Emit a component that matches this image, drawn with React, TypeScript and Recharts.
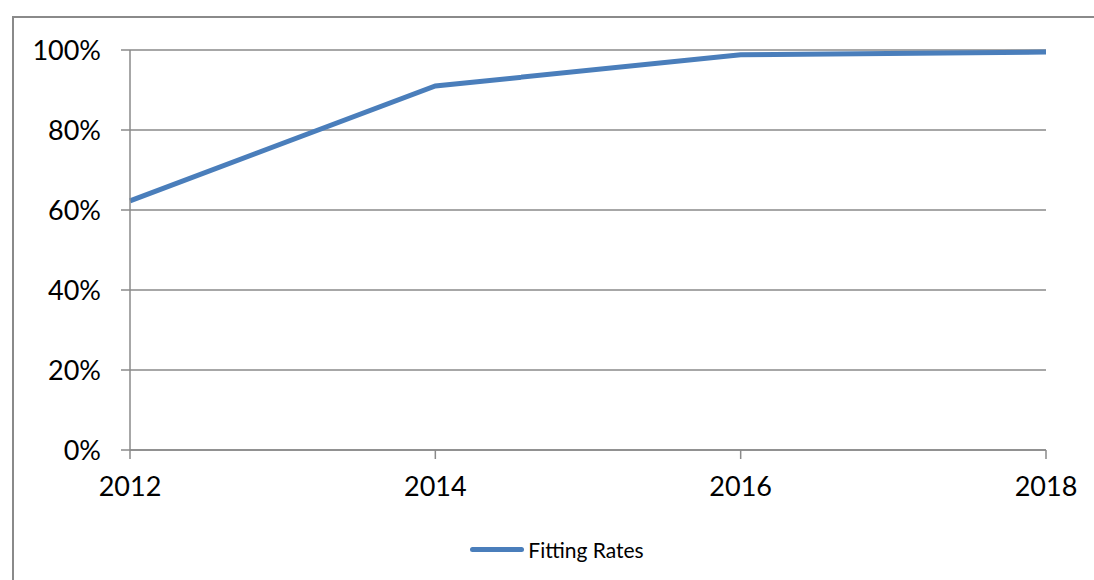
import React from 'react';
import { LineChart, Line, XAxis, YAxis, CartesianGrid } from 'recharts';

// values
const years = ['2012', '2014', '2016', '2018'];
const fittingRates = [0.623, 0.91, 0.988, 0.995];
const yTicks = [0, 0.2, 0.4, 0.6, 0.8, 1];

const data = years.map((year, i) => ({ year, rate: fittingRates[i] }));

const FONT = 'Lato, "Open Sans", sans-serif';
const GRAY = '#8a8a8a';
const BLUE = '#4a7ebb';

const LegendRow = () => (
  <div
    style={{
      position: 'absolute',
      left: 0,
      width: 1086,
      top: 519,
      display: 'flex',
      justifyContent: 'center',
      alignItems: 'center',
      fontFamily: FONT,
      fontSize: 21,
      color: '#000',
    }}
  >
    <span
      style={{
        display: 'inline-block',
        width: 54,
        height: 5,
        borderRadius: 3,
        background: BLUE,
        marginRight: 4,
      }}
    />
    <span>Fitting Rates</span>
  </div>
);

const App = () => {
  return (
    <div
      style={{
        position: 'fixed',
        left: 12,
        top: 16,
        width: 1082,
        height: 564,
        overflow: 'hidden',
        borderTop: `2px solid ${GRAY}`,
        borderLeft: `2px solid ${GRAY}`,
        boxSizing: 'border-box',
        background: '#fff',
      }}
    >
      <LineChart
        width={1086}
        height={576}
        data={data}
        margin={{ top: 32, right: 54, bottom: 0, left: 0 }}
      >
        <CartesianGrid horizontal vertical={false} stroke={GRAY} strokeWidth={1.5} />
        <XAxis
          dataKey="year"
          height={144}
          axisLine={{ stroke: GRAY, strokeWidth: 1.5 }}
          tickLine={{ stroke: GRAY, strokeWidth: 1.5 }}
          tickSize={9}
          tickMargin={18}
          tick={{ fill: '#000', fontSize: 27, fontFamily: FONT }}
          interval={0}
        />
        <YAxis
          width={116}
          domain={[0, 1]}
          ticks={yTicks}
          tickFormatter={(v: number) => `${Math.round(v * 100)}%`}
          axisLine={{ stroke: GRAY, strokeWidth: 1.5 }}
          tickLine={{ stroke: GRAY, strokeWidth: 1.5 }}
          tickSize={9}
          tickMargin={20}
          tick={{ fill: '#000', fontSize: 27, fontFamily: FONT }}
        />
        <Line
          type="linear"
          dataKey="rate"
          stroke={BLUE}
          strokeWidth={5}
          dot={false}
          isAnimationActive={false}
        />
      </LineChart>
      <LegendRow />
    </div>
  );
};

export default App;
